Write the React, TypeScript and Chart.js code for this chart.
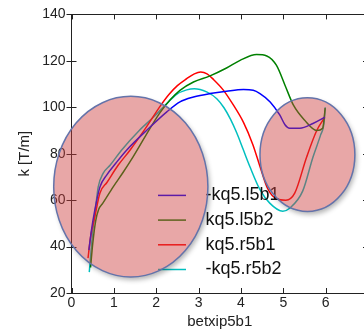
import React, { useEffect, useRef } from "react";
import { Chart, registerables } from "chart.js";

Chart.register(...registerables);

const seriesLabels = ["-kq5.l5b1", "kq5.l5b2", "kq5.r5b1", "-kq5.r5b2"];
const seriesColors = ["#0000ff", "#008000", "#ff0000", "#00bfbf"];

const blueX = [0.41, 0.47, 0.55, 0.67, 0.83, 1.05, 1.3, 1.8, 2.25, 2.56, 2.88, 3.27, 3.66, 4.06, 4.29, 4.45, 4.69, 4.92, 5.04, 5.15, 5.39, 5.7, 5.98];
const blueY = [38.5, 47, 55.7, 65.6, 70.8, 76, 81.5, 90.5, 98, 102.3, 104.4, 105.9, 106.9, 107.6, 107.3, 105.9, 102.3, 96.6, 92.5, 91, 91, 93, 95.7];

const greenX = [0.45, 0.5, 0.57, 0.64, 0.74, 0.98, 1.22, 1.45, 1.9, 2.09, 2.33, 2.56, 2.88, 3.27, 3.66, 3.98, 4.37, 4.61, 4.84, 5.04, 5.24, 5.5, 5.79, 5.93, 5.99];
const greenY = [31, 41, 51, 56, 58.7, 65.6, 72, 78.5, 92.3, 97.7, 103.2, 107.3, 110.9, 113.5, 116.9, 120.2, 122.7, 122.1, 118, 109.5, 100.9, 94.5, 90, 91, 99.6];

const redX = [0.39, 0.45, 0.55, 0.67, 0.84, 1.1, 1.38, 1.75, 2.09, 2.3, 2.5, 2.72, 2.9, 3.05, 3.2, 3.35, 3.58, 3.82, 4.06, 4.28, 4.45, 4.63, 4.85, 5.06, 5.27, 5.55, 5.79, 5.98];
const redY = [35, 44, 52.7, 63, 67.7, 75, 81.5, 91, 100.4, 105.5, 109.3, 112.3, 114.4, 115.2, 114.4, 112, 107.5, 101, 93.5, 84, 74.5, 65, 60.5, 60, 63, 78.5, 90, 95.7];

const cyanX = [0.42, 0.47, 0.51, 0.57, 0.63, 0.75, 0.91, 1.18, 1.6, 1.95, 2.25, 2.48, 2.72, 2.9, 3.19, 3.43, 3.6, 3.75, 3.9, 4.05, 4.21, 4.45, 4.68, 4.99, 5.15, 5.46, 5.7, 5.88, 5.96, 5.99];
const cyanY = [29, 40, 48, 57, 65.6, 71.6, 75, 81.5, 90, 96, 101.6, 105.6, 107.5, 108, 106.6, 103.7, 99.8, 95, 89, 82, 74.5, 64.5, 58.7, 55.2, 56.5, 64, 78.5, 88, 93, 100];

const seriesX = [blueX, greenX, redX, cyanX];
const seriesY = [blueY, greenY, redY, cyanY];

const xTickValues = [0, 1, 2, 3, 4, 5, 6, 7];
const yTickValues = [20, 40, 60, 80, 100, 120, 140];
const xMin = 0, xMax = 7, yMin = 20, yMax = 140;

const ellipseCX = [1.4, 5.57];
const ellipseCY = [65.8, 79.6];
const ellipseRX = [1.82, 1.12];
const ellipseRY = [38.9, 24.5];

const FONT = "'Liberation Sans', Arial, sans-serif";

const overlayPlugin = {
  id: "overlay",
  afterDraw(chart: any) {
    const { ctx, chartArea: ca, scales } = chart;
    const xs = scales.x;
    const ys = scales.y;
    ctx.save();
    ctx.strokeStyle = "#222";
    ctx.lineWidth = 1;
    ctx.strokeRect(ca.left, Math.round(ca.top) + 0.5, ca.right - ca.left, Math.round(ca.bottom) - Math.round(ca.top));
    ctx.beginPath();
    xTickValues.forEach((v) => {
      const px = Math.round(xs.getPixelForValue(v)) + 0.5;
      ctx.moveTo(px, ca.bottom);
      ctx.lineTo(px, ca.bottom - 5);
      ctx.moveTo(px, ca.top);
      ctx.lineTo(px, ca.top + 5);
    });
    yTickValues.forEach((v) => {
      const py = Math.round(ys.getPixelForValue(v)) + 0.5;
      ctx.moveTo(ca.left - 5, py);
      ctx.lineTo(ca.left + 5, py);
      ctx.moveTo(ca.right, py);
      ctx.lineTo(ca.right - 5, py);
    });
    ctx.stroke();

    ctx.font = `18px ${FONT}`;
    ctx.textBaseline = "middle";
    ctx.textAlign = "left";
    chart.data.datasets.forEach((ds: any, i: number) => {
      const y = ca.top + 181 + i * 24.7;
      ctx.strokeStyle = ds.borderColor;
      ctx.lineWidth = 1.5;
      ctx.beginPath();
      ctx.moveTo(ca.left + 86.5, y);
      ctx.lineTo(ca.left + 114.5, y);
      ctx.stroke();
      ctx.fillStyle = "#111";
      ctx.fillText(ds.label, ca.left + 134, y);
    });

    const W = chart.width, H = chart.height;
    for (let i = 0; i < ellipseCX.length; i++) {
      const cx = xs.getPixelForValue(ellipseCX[i]);
      const cy = ys.getPixelForValue(ellipseCY[i]);
      const rx = Math.abs(xs.getPixelForValue(ellipseCX[i] + ellipseRX[i]) - cx);
      const ry = Math.abs(ys.getPixelForValue(ellipseCY[i] + ellipseRY[i]) - cy);
      ctx.save();
      ctx.beginPath();
      ctx.rect(0, 0, W, H);
      ctx.ellipse(cx, cy, rx, ry, 0, 0, Math.PI * 2);
      ctx.clip("evenodd");
      ctx.shadowColor = "rgba(0,0,0,0.3)";
      ctx.shadowBlur = 5;
      ctx.shadowOffsetX = 10000 + 2;
      ctx.shadowOffsetY = 3;
      ctx.fillStyle = "#000";
      ctx.beginPath();
      ctx.ellipse(cx - 10000, cy, rx, ry, 0, 0, Math.PI * 2);
      ctx.fill();
      ctx.restore();
      ctx.fillStyle = "rgba(205,60,60,0.45)";
      ctx.beginPath();
      ctx.ellipse(cx, cy, rx, ry, 0, 0, Math.PI * 2);
      ctx.fill();
      ctx.strokeStyle = "rgb(100,115,170)";
      ctx.lineWidth = 1.5;
      ctx.stroke();
    }
    ctx.restore();
  },
};

export default function App() {
  const ref = useRef<HTMLCanvasElement | null>(null);
  useEffect(() => {
    if (!ref.current) return;
    const datasets = seriesLabels.map((label, i) => ({
      label,
      data: seriesX[i].map((x, j) => ({ x, y: seriesY[i][j] })),
      borderColor: seriesColors[i],
      backgroundColor: seriesColors[i],
      borderWidth: 1.5,
      pointRadius: 0,
      cubicInterpolationMode: "monotone",
      fill: false,
    }));
    const chart = new Chart(ref.current, {
      type: "line",
      data: { datasets },
      options: {
        responsive: false,
        animation: false,
        events: [],
        layout: { padding: { left: 0, right: 4, top: 13, bottom: 0 } },
        plugins: { legend: { display: false }, tooltip: { enabled: false } },
        scales: {
          x: {
            type: "linear",
            min: xMin,
            max: xMax,
            afterFit: (s: any) => {
              s.height = 38;
            },
            afterBuildTicks: (s: any) => {
              s.ticks = xTickValues.map((v) => ({ value: v }));
            },
            grid: { display: false, drawTicks: false },
            border: { display: false },
            ticks: {
              padding: 2,
              color: "#222",
              font: { size: 14, family: FONT },
              maxRotation: 0,
              callback: (v: any) => (v === 7 ? "" : String(v)),
            },
            title: {
              display: true,
              text: "betxip5b1",
              color: "#222",
              font: { size: 15, family: FONT },
              padding: { top: 0, bottom: 0 },
            },
          },
          y: {
            type: "linear",
            min: yMin,
            max: yMax,
            afterFit: (s: any) => {
              s.width = 71.5;
            },
            afterBuildTicks: (s: any) => {
              s.ticks = yTickValues.map((v) => ({ value: v }));
            },
            grid: { display: false, drawTicks: false },
            border: { display: false },
            ticks: {
              padding: 6,
              color: "#222",
              font: { size: 14, family: FONT },
            },
            title: {
              display: true,
              text: "k [T/m]",
              color: "#222",
              font: { size: 15, family: FONT },
              padding: { top: 16, bottom: 0 },
            },
          },
        },
      },
      plugins: [overlayPlugin],
    } as any);
    return () => chart.destroy();
  }, []);
  return (
    <div style={{ position: "fixed", left: 0, top: 0, width: 364, height: 331, overflow: "hidden", background: "#fff" }}>
      <canvas ref={ref} width={372} height={331} style={{ display: "block", width: 372, height: 331 }} />
    </div>
  );
}
